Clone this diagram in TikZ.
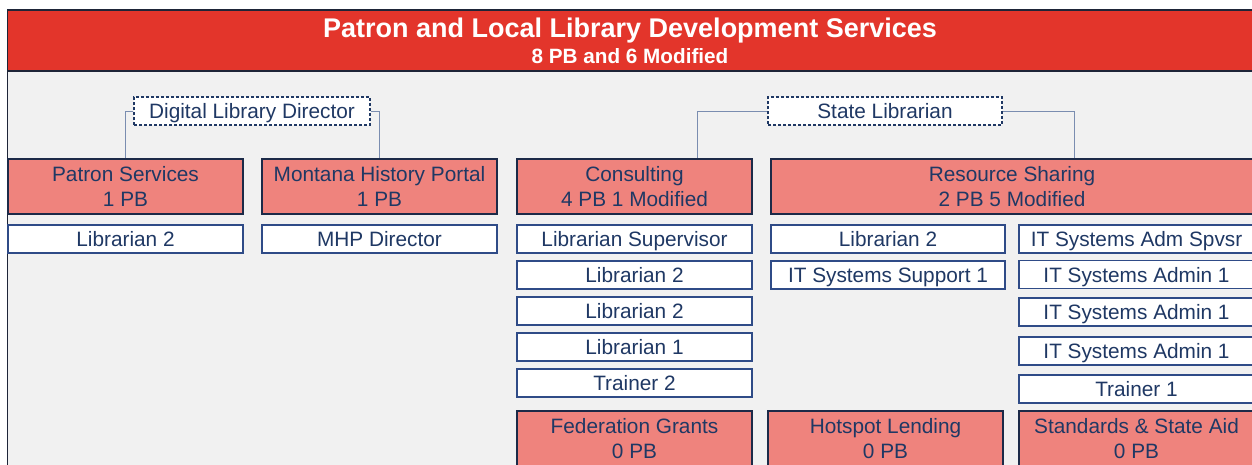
\documentclass[tikz,border=0pt]{standalone}
\usepackage{fontspec}
\setmainfont{Liberation Sans}
\usetikzlibrary{calc}

\definecolor{bannerred}{HTML}{E3352B}
\definecolor{unitpink}{HTML}{EF837D}
\definecolor{navy}{HTML}{1F3864}
\definecolor{posline}{HTML}{2F4B87}
\definecolor{unitline}{HTML}{1C2A48}
\definecolor{panel}{HTML}{F1F1F1}
\definecolor{linkgray}{HTML}{7A8DB0}
\definecolor{framedark}{HTML}{1E2538}

\newcommand\orgbody{\fontsize{20.8pt}{25pt}\selectfont}

\tikzset{
  unit/.style={draw=unitline, line width=1.3pt, fill=unitpink, text=navy,
    minimum width=235pt, minimum height=55pt, inner sep=0pt, align=center,
    font=\orgbody},
  post/.style={draw=posline, line width=1.3pt, fill=white, text=navy,
    minimum width=235pt, minimum height=28pt, inner sep=0pt,
    text height=15pt, text depth=0pt, font=\orgbody},
  head/.style={draw=navy, line width=1.2pt, dash pattern=on 3pt off 2pt,
    fill=white, text=navy, minimum height=28pt, inner sep=0pt,
    text height=15pt, text depth=0pt, font=\orgbody},
  link/.style={draw=linkgray, line width=0.9pt},
}

\begin{document}
\begin{tikzpicture}[x=1pt, y=-1pt]
  \useasboundingbox (0,0) rectangle (1252,464);
  \clip (0,0) rectangle (1252,464);

  % page frame: title banner and grey panel
  \fill[white] (0,0) rectangle (1252,464);
  \path[fill=panel, draw=framedark, line width=1.5pt] (7.5,71) rectangle (1262,480);
  \path[fill=bannerred, draw=framedark, line width=1.5pt] (7.5,10) rectangle (1262,71);
  \node[text=white, font=\fontsize{27pt}{30pt}\selectfont\bfseries,
        inner sep=0pt, text height=19.3pt, text depth=0pt] (title) at (630,27.5)
        {Patron and Local Library Development Services};
  \node[text=white, font=\fontsize{20.7pt}{24pt}\selectfont\bfseries,
        inner sep=0pt, text height=14.8pt, text depth=0pt] (subtitle) at (630,56.5)
        {8 PB and 6 Modified};

  % reporting heads
  \node[head, minimum width=236pt] (dld) at (252,111) {Digital Library Director};
  \node[head, minimum width=234pt] (sl) at (885,111) {State Librarian};

  % units
  \node[unit] (ps) at (125.5,186.5) {Patron Services\\1 PB};
  \node[unit] (mhp) at (379.5,186.5) {Montana History Portal\\1 PB};
  \node[unit] (cons) at (634.5,186.5) {Consulting\\4 PB 1 Modified};
  \node[unit, minimum width=482pt] (rs) at (1012,186.5) {Resource Sharing\\2 PB 5 Modified};

  % connectors
  \draw[link] (dld.west) -| (ps.north);
  \draw[link] (dld.east) -| (mhp.north);
  \draw[link] (sl.west) -| ([xshift=62.5pt]cons.north);
  \draw[link] (sl.east) -| ([xshift=62pt]rs.north);

  % positions
  \node[post] (psa) at (125.5,239) {Librarian 2};
  \node[post] (mhpa) at (379.5,239) {MHP Director};

  \node[post] (ca) at (634.5,239) {Librarian Supervisor};
  \node[post] (cb) at (634.5,275) {Librarian 2};
  \node[post] (cc) at (634.5,311) {Librarian 2};
  \node[post] (cd) at (634.5,347) {Librarian 1};
  \node[post] (ce) at (634.5,383) {Trainer 2};

  \node[post, minimum width=234pt] (ra) at (888,239) {Librarian 2};
  \node[post, minimum width=234pt] (rb) at (888,275) {IT Systems Support 1};

  \node[post] (ta) at (1136.5,239) {IT Systems Adm Spvsr};
  \node[post] (tb) at (1136.5,274.5) {IT Systems Admin 1};
  \node[post] (tc) at (1136.5,312) {IT Systems Admin 1};
  \node[post] (td) at (1136.5,351) {IT Systems Admin 1};
  \node[post] (te) at (1136.5,389) {Trainer 1};

  % lower units
  \node[unit] (fg) at (634.5,438.5) {Federation Grants\\0 PB};
  \node[unit] (hl) at (885.5,438.5) {Hotspot Lending\\0 PB};
  \node[unit] (ssa) at (1136.5,438.5) {Standards \& State Aid\\0 PB};
\end{tikzpicture}
\end{document}
